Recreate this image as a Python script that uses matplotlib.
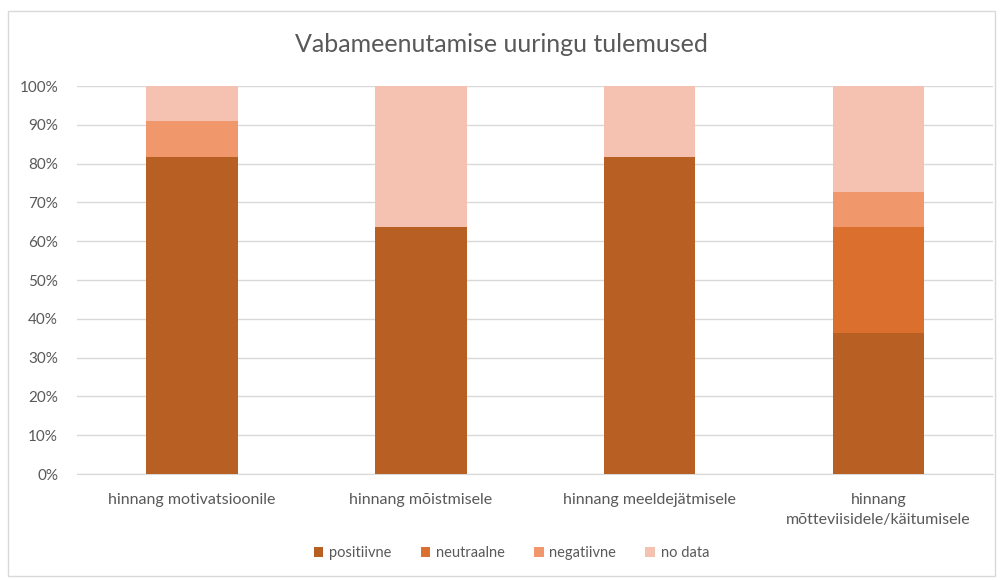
import matplotlib
matplotlib.use("Agg")
import matplotlib.pyplot as plt
from matplotlib.patches import Rectangle
from matplotlib.ticker import PercentFormatter
import numpy as np

plt.rcParams["font.family"] = ["Lato", "DejaVu Sans"]

categories = ["hinnang motivatsioonile", "hinnang mõistmisele",
              "hinnang meeldejätmisele", "hinnang\nmõtteviisidele/käitumisele"]
series = ["positiivne", "neutraalne", "negatiivne", "no data"]
positiivne = [81.8, 63.6, 81.8, 36.4]
neutraalne = [0.0, 0.0, 0.0, 27.3]
negatiivne = [9.1, 0.0, 0.0, 9.1]
no_data = [9.1, 36.4, 18.2, 27.2]
colors = ["#B85F23", "#DB702E", "#F0976C", "#F5C2B1"]

fig = plt.figure(figsize=(10.03, 5.8), dpi=100)
ax = fig.add_axes([77.5 / 1003, 1 - 474 / 580, (993 - 77.5) / 1003, (474 - 86) / 580])

x = np.arange(len(categories))
bottom = np.zeros(len(categories))
for name, vals, c in zip(series, [positiivne, neutraalne, negatiivne, no_data], colors):
    ax.bar(x, vals, 0.4, bottom=bottom, color=c, label=name, zorder=3)
    bottom += np.array(vals)

ax.set_xlim(-0.5, len(categories) - 0.5)
ax.set_ylim(0, 100)
ax.set_yticks(range(0, 101, 10))
ax.yaxis.set_major_formatter(PercentFormatter(decimals=0))
ax.set_xticks(x)
ax.set_xticklabels(categories, fontsize=11.5, color="#595959", linespacing=1.5)
ax.tick_params(axis="y", labelsize=11, labelcolor="#595959", length=0, pad=14)
ax.tick_params(axis="x", length=0, pad=14)
ax.grid(axis="y", color="#D9D9D9", lw=1, zorder=0)
for s in ["top", "right", "left"]:
    ax.spines[s].set_visible(False)
ax.spines["bottom"].set_color("#D9D9D9")

fig.text(0.5, 1 - 45 / 580, "Vabameenutamise uuringu tulemused", ha="center", va="center",
         fontsize=18, color="#595959")
fig.legend(loc="center", bbox_to_anchor=(0.51, 1 - 553 / 580), ncol=4, frameon=False,
           fontsize=10.5, labelcolor="#595959", handlelength=0.65, handleheight=0.65,
           handletextpad=0.4, columnspacing=2.0)

fig.patches.append(Rectangle((8 / 1003, 1 - 576 / 580), 987 / 1003, 565 / 580,
                             transform=fig.transFigure, fill=False, ec="#D9D9D9", lw=1))

fig.savefig("out.png", dpi=100)
